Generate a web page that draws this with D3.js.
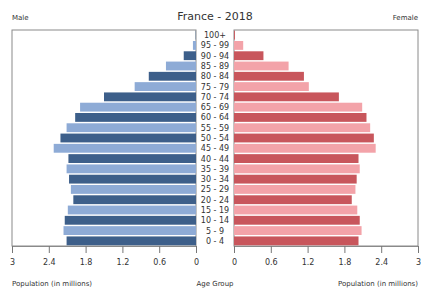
<!DOCTYPE html>
<html>
<head>
<meta charset="utf-8">
<script src="https://cdn.jsdelivr.net/npm/d3@7"></script>
<style>
  body { margin: 0; background: #fff; }
  text { font-family: "DejaVu Sans", sans-serif; fill: #333; }
</style>
</head>
<body>
<div id="chart"></div>
<script>
// age groups, bottom to top
var ageGroups = ["0 - 4","5 - 9","10 - 14","15 - 19","20 - 24","25 - 29","30 - 34","35 - 39",
  "40 - 44","45 - 49","50 - 54","55 - 59","60 - 64","65 - 69","70 - 74","75 - 79",
  "80 - 84","85 - 89","90 - 94","95 - 99","100+"];
// population in millions
var male = [2.11,2.16,2.14,2.09,2.00,2.04,2.07,2.11,2.08,2.32,2.21,2.11,1.97,1.89,1.50,1.00,
  0.77,0.49,0.20,0.05,0.005];
var female = [2.03,2.08,2.05,2.01,1.92,1.98,2.00,2.05,2.03,2.31,2.28,2.22,2.16,2.09,1.71,1.22,
  1.14,0.89,0.48,0.15,0.015];
var tickVals = [0,0.6,1.2,1.8,2.4,3];

var W = 421, H = 288;
var plotTop = 30, plotBottom = 246;
var leftL = 12, leftR = 196, rightL = 234, rightR = 418;

var svg = d3.select("#chart").append("svg")
    .attr("width", W).attr("height", H);

var y = d3.scaleBand()
    .domain(ageGroups.slice().reverse())
    .range([plotTop, plotBottom])
    .paddingInner(0.14)
    .paddingOuter(0.07);

var xL = d3.scaleLinear().domain([0,3]).range([leftR, leftL]);
var xR = d3.scaleLinear().domain([0,3]).range([rightL, rightR]);

var maleCol = ["#3d5f8a","#8eabd6"];
var femCol = ["#c8565c","#f3a3a9"];

// panel boxes
svg.append("rect").attr("x", leftL).attr("y", plotTop)
    .attr("width", leftR-leftL).attr("height", plotBottom-plotTop)
    .attr("fill","none").attr("stroke","#8a8a8a").attr("stroke-width",1);
svg.append("rect").attr("x", rightL).attr("y", plotTop)
    .attr("width", rightR-rightL).attr("height", plotBottom-plotTop)
    .attr("fill","none").attr("stroke","#8a8a8a").attr("stroke-width",1);

svg.selectAll(".male").data(ageGroups).enter().append("rect")
    .attr("class","male")
    .attr("x",(d,i)=>xL(male[i]))
    .attr("y",d=>y(d))
    .attr("width",(d,i)=>xL(0)-xL(male[i]))
    .attr("height",y.bandwidth())
    .attr("fill",(d,i)=>maleCol[i%2]);

svg.selectAll(".female").data(ageGroups).enter().append("rect")
    .attr("class","female")
    .attr("x",xR(0))
    .attr("y",d=>y(d))
    .attr("width",(d,i)=>xR(female[i])-xR(0))
    .attr("height",y.bandwidth())
    .attr("fill",(d,i)=>femCol[i%2]);

// age labels
svg.selectAll(".age").data(ageGroups).enter().append("text")
    .attr("class","age")
    .attr("x",(leftR+rightL)/2)
    .attr("y",d=>y(d)+y.bandwidth()/2+3)
    .attr("text-anchor","middle")
    .attr("font-size","8px")
    .text(d=>d);

// axes
var axL = d3.axisBottom(xL).tickValues(tickVals).tickSize(7).tickFormat(d3.format("~g"));
var axR = d3.axisBottom(xR).tickValues(tickVals).tickSize(7).tickFormat(d3.format("~g"));
[axL, axR].forEach(function(ax){
  var g = svg.append("g").attr("transform","translate(0,"+plotBottom+")").call(ax);
  g.select(".domain").attr("stroke","#8a8a8a");
  g.selectAll(".tick line").attr("stroke","#777");
  g.selectAll(".tick text").attr("font-size","8px").attr("fill","#444")
      .attr("font-family","DejaVu Sans, sans-serif").attr("dy","1.1em");
});

// titles
svg.append("text").attr("x",215).attr("y",20).attr("text-anchor","middle")
    .attr("font-size","11px").text("France - 2018");
svg.append("text").attr("x",leftL).attr("y",20).attr("font-size","7px").text("Male");
svg.append("text").attr("x",rightR).attr("y",20).attr("text-anchor","end")
    .attr("font-size","7px").text("Female");
svg.append("text").attr("x",leftL).attr("y",286).attr("font-size","7px").text("Population (in millions)");
svg.append("text").attr("x",215).attr("y",286).attr("text-anchor","middle")
    .attr("font-size","7px").text("Age Group");
svg.append("text").attr("x",rightR).attr("y",286).attr("text-anchor","end")
    .attr("font-size","7px").text("Population (in millions)");
</script>
</body>
</html>
